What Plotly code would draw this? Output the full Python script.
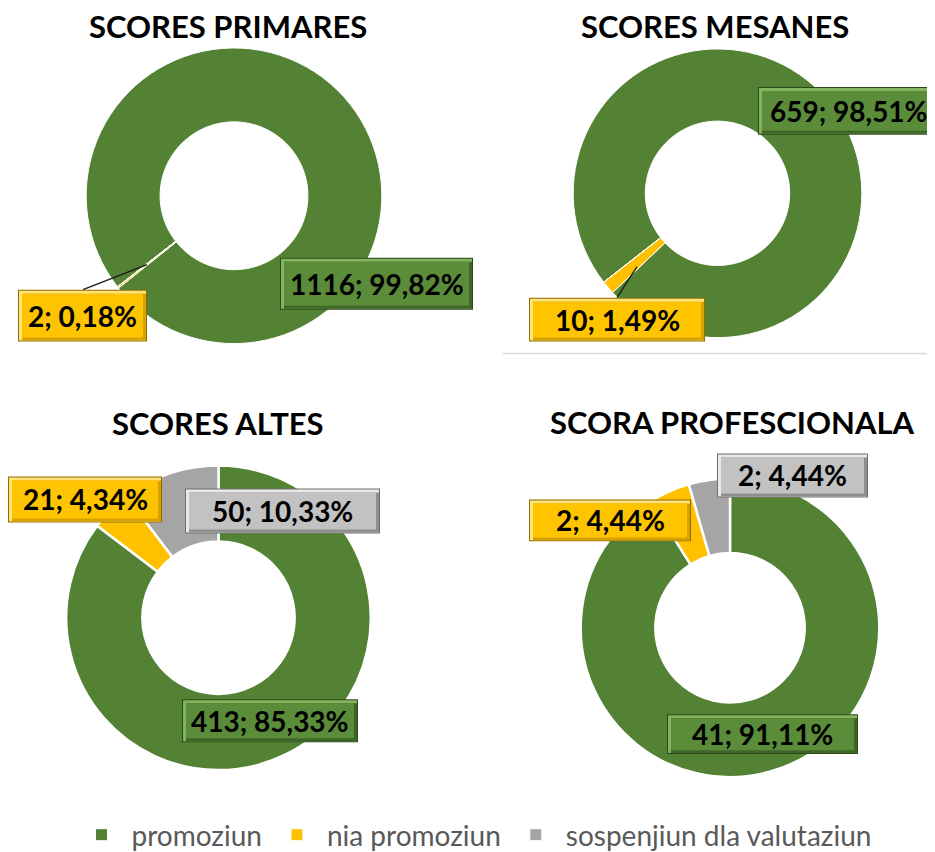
import plotly.graph_objects as go

# the plot div sits 8px from the page corner (default body margin);
# positions below are page pixels and are shifted back by this offset
OFF = 8
W, H = 935, 852

# ---------------- data ----------------
categories = ["promoziun", "nia promoziun", "sospenjiun dla valutaziun"]
titles = ["SCORES PRIMARES", "SCORES MESANES", "SCORES ALTES", "SCORA PROFESCIONALA"]
primares = [1116, 2, 0]
mesanes = [659, 10, 0]
altes = [413, 21, 50]
profescionala = [41, 2, 2]
series = [primares, mesanes, altes, profescionala]

# ---------------- style / layout (page pixels) ----------------
slice_colors = ["#548235", "#FFC000", "#A5A5A5"]
box_face = ["#5A8C39", "#FFC400", "#C2C2C2"]
box_light = ["#82B45E", "#FFE27A", "#E8E8E8"]
box_shadow = ["#3F6628", "#D6A200", "#8F8F8F"]
box_dark = ["#2C4819", "#8F6C00", "#6E6E6E"]

pie_boxes = [(86, 48, 382, 344), (573, 49, 862, 338), (66, 466, 371, 771), (580, 479, 880, 778)]
rotations = [232, 232, 0, 0]
line_widths = [1, 1, 2.5, 2.5]
title_pos = [(228, 26), (715, 26), (218, 423), (732, 422)]
label_boxes = {
    (0, 0): (280, 258, 473, 310),
    (0, 1): (18, 290, 147, 342),
    (1, 0): (758, 87, 940, 135),
    (1, 1): (529, 298, 705, 342),
    (2, 0): (182, 700, 358, 743),
    (2, 1): (8, 477, 162, 523),
    (2, 2): (185, 489, 380, 534),
    (3, 0): (667, 715, 858, 755),
    (3, 1): (529, 500, 691, 542),
    (3, 2): (717, 454, 868, 498),
}
leaders = [(83, 290, 147, 265), (617, 298, 637, 267)]


def fx(x):
    return (x - OFF) / W


def fy(y):
    return 1 - (y - OFF) / H


fig = go.Figure()
for i, vals in enumerate(series):
    x0, y0, x1, y1 = pie_boxes[i]
    fig.add_trace(go.Pie(
        labels=categories, values=vals, hole=0.5, sort=False,
        direction="clockwise", rotation=rotations[i],
        marker=dict(colors=slice_colors, line=dict(color="white", width=line_widths[i])),
        textinfo="none", hoverinfo="label+value+percent",
        domain=dict(x=[fx(x0), fx(x1)], y=[fy(y1), fy(y0)]),
        showlegend=True,
    ))

shapes = []
annotations = []

# titles
for i, t in enumerate(titles):
    cx, cy = title_pos[i]
    annotations.append(dict(
        text=f"<b>{t}</b>", x=fx(cx), y=fy(cy), xref="paper", yref="paper",
        xanchor="center", yanchor="middle", showarrow=False,
        font=dict(family="Lato", size=31, color="black"),
    ))

# leader lines
for (ax0, ay0, ax1, ay1) in leaders:
    shapes.append(dict(type="line", xref="paper", yref="paper",
                       x0=fx(ax0), y0=fy(ay0), x1=fx(ax1), y1=fy(ay1),
                       line=dict(color="#1a1a1a", width=1.3)))

# separator line under top-right chart
shapes.append(dict(type="line", xref="paper", yref="paper",
                   x0=fx(503), y0=fy(354), x1=fx(943), y1=fy(354),
                   line=dict(color="#D9D9D9", width=1.5)))


def rect(x0, y0, x1, y1, color):
    return dict(type="rect", xref="paper", yref="paper",
                x0=fx(x0), x1=fx(x1), y0=fy(y1), y1=fy(y0),
                fillcolor=color, line=dict(width=0), layer="above")


# data labels with bevelled boxes
for (ci, k), (x0, y0, x1, y1) in label_boxes.items():
    vals = series[ci]
    total = sum(vals)
    pct = vals[k] / total * 100
    txt = f"{vals[k]}; {pct:.2f}%".replace(".", ",")
    shapes.append(rect(x0, y0, x1, y1, box_dark[k]))
    shapes.append(rect(x0 + 1, y0 + 1, x1 - 1, y1 - 1, box_light[k]))
    shapes.append(rect(x0 + 4, y0 + 4, x1 - 1, y1 - 1, box_shadow[k]))
    shapes.append(rect(x0 + 4, y0 + 4, x1 - 4, y1 - 4, box_face[k]))
    annotations.append(dict(
        text=f"<b>{txt}</b>", x=fx((x0 + x1) / 2), y=fy((y0 + y1) / 2),
        xref="paper", yref="paper", xanchor="center", yanchor="middle",
        showarrow=False, font=dict(family="Lato", size=28, color="black"),
    ))

fig.update_layout(
    width=W, height=H,
    margin=dict(l=0, r=0, t=0, b=0),
    paper_bgcolor="white", plot_bgcolor="white",
    shapes=shapes, annotations=annotations,
    legend=dict(orientation="h", x=fx(474), xanchor="center", y=fy(836), yanchor="middle",
                font=dict(family="Lato", size=28, color="#595959"),
                traceorder="normal", itemwidth=50),
)

fig.write_html("out.html")
